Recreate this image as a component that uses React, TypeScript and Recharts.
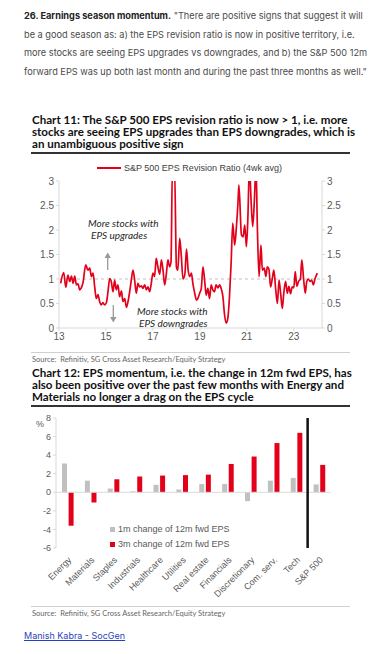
import React from 'react';
import {
  LineChart, Line, BarChart, Bar, XAxis, YAxis, ReferenceLine, Legend,
} from 'recharts';

// Chart 11: S&P 500 EPS revision ratio (4wk avg), x = year (20xx, decimal)
const revisionYears = [
  13.07, 13.2, 13.29, 13.38, 13.46, 13.53, 13.6, 13.67, 13.74, 13.81, 13.88, 13.95,
  14.02, 14.14, 14.23, 14.31, 14.38, 14.45, 14.52, 14.59, 14.66, 14.73, 14.8, 14.87,
  14.94, 15.02, 15.09, 15.16, 15.23, 15.3, 15.37, 15.44, 15.51, 15.58, 15.66, 15.72,
  15.8, 15.87, 15.94, 16.01, 16.08, 16.15, 16.22, 16.29, 16.36, 16.43, 16.51, 16.57,
  16.65, 16.72, 16.79, 16.86, 16.93, 17.0, 17.07, 17.14, 17.21, 17.29, 17.36, 17.43,
  17.5, 17.57, 17.64, 17.71, 17.77, 17.83, 17.92, 18.0, 18.06, 18.14, 18.21, 18.28,
  18.36, 18.43, 18.5, 18.57, 18.64, 18.7, 18.78, 18.85, 18.91, 18.99, 19.06, 19.13,
  19.2, 19.27, 19.34, 19.41, 19.48, 19.55, 19.62, 19.69, 19.77, 19.84, 19.91, 19.98,
  20.05, 20.12, 20.19, 20.26, 20.33, 20.4, 20.48, 20.55, 20.62, 20.66, 20.77, 20.84,
  20.91, 20.98, 21.04, 21.11, 21.18, 21.25, 21.32, 21.39, 21.45, 21.52, 21.6, 21.66,
  21.74, 21.81, 21.87, 21.94, 22.01, 22.08, 22.15, 22.23, 22.3, 22.37, 22.44, 22.51,
  22.57, 22.65, 22.72, 22.79, 22.86, 22.93, 23.0, 23.06, 23.13, 23.2, 23.28, 23.34,
  23.42, 23.49, 23.55, 23.62, 23.69, 23.76, 23.83, 23.9, 24.0,
];
const revisionRatio = [
  0.91, 1.13, 0.83, 1.08, 0.95, 1.06, 0.91, 1.06, 0.88, 0.9, 0.78, 0.82,
  0.92, 1.29, 1.18, 1.22, 1.05, 1.12, 0.84, 0.6, 0.68, 0.54, 0.47, 0.52,
  0.47, 0.52, 0.76, 1.01, 0.94, 0.74, 0.98, 0.78, 0.88, 0.64, 0.76, 0.54,
  0.6, 0.42, 0.54, 0.74, 0.98, 1.18, 0.98, 0.71, 0.91, 0.84, 0.86, 0.81,
  0.88, 0.78, 0.84, 0.74, 0.91, 1.12, 1.05, 1.42, 1.25, 1.1, 1.39, 1.18,
  0.88, 1.1, 1.39, 1.25, 1.35, 3.3, 3.3, 1.25, 1.18, 1.83, 1.46, 1.0,
  1.1, 1.61, 1.18, 1.05, 1.12, 0.91, 0.71, 0.57, 0.6, 0.71, 0.81, 1.25,
  0.98, 0.67, 0.81, 0.6, 0.88, 0.78, 0.74, 0.88, 0.82, 0.88, 0.8, 0.64,
  0.27, 0.1, 0.2, 0.64, 1.32, 2.14, 1.69, 2.03, 2.54, 2.92, 1.9, 1.86,
  2.1, 1.66, 2.2, 3.3, 2.6, 2.07, 2.6, 3.3, 2.0, 1.05, 1.69, 1.18,
  1.22, 1.05, 1.25, 1.2, 0.84, 1.0, 1.18, 0.78, 0.5, 0.98, 0.7, 0.4,
  0.7, 0.95, 0.71, 0.85, 0.7, 0.84, 0.82, 1.15, 0.85, 0.95, 1.0, 1.39,
  0.98, 0.71, 0.95, 1.0, 0.95, 0.98, 0.88, 1.0, 1.12,
];
const yearTicks = [13, 15, 17, 19, 21, 23];
const ratioTicks = [0, 0.5, 1, 1.5, 2, 2.5, 3];

// Chart 12: change in 12m fwd EPS by sector (%)
const sectors = [
  'Energy', 'Materials', 'Staples', 'Industrials', 'Healthcare', 'Utilities',
  'Real estate', 'Financials', 'Discretionary', 'Com. serv.', 'Tech', 'S&P 500',
];
const oneMonthChange = [3.1, 1.25, 0.4, 0.1, 0.8, 0.3, 0.9, 0.9, -0.95, 1.25, 1.55, 0.85];
const threeMonthChange = [-3.6, -1.1, 1.4, 1.7, 1.8, 1.85, 1.9, 3.05, 3.85, 5.3, 6.4, 2.95];
const pctTicks = [-6, -4, -2, 0, 2, 4, 6, 8];

const RED = '#e2001a';
const GREY = '#c0c0c0';
const AXIS = '#d9d9d9';
const TICK = '#595959';
const chartFont = '"Liberation Sans", Arial, sans-serif';
const titleFont = 'Lato, "Open Sans", sans-serif';

const revisionData = revisionYears.map((y, i) => ({ year: y, ratio: revisionRatio[i] }));
const sectorData = sectors.map((s, i) => ({
  sector: s,
  m1: oneMonthChange[i],
  m3: threeMonthChange[i],
}));

function Title({ top, lines }: { top: number; lines: string[] }) {
  return (
    <div style={{ position: 'absolute', left: 32, top, fontFamily: titleFont, fontWeight: 700,
      fontSize: 11.6, lineHeight: '12.3px', color: '#111' }}>
      {lines.map((l) => <div key={l} style={{ whiteSpace: 'nowrap' }}>{l}</div>)}
    </div>
  );
}

function Source({ top }: { top: number }) {
  return (
    <>
      <div style={{ position: 'absolute', left: 31, top, width: 319, height: 1, background: '#d0d0d0' }} />
      <div style={{ position: 'absolute', left: 32, top: top + 3, fontFamily: titleFont, fontSize: 7.5,
        color: '#666', whiteSpace: 'nowrap' }}>
        Source:&nbsp; Refinitiv, SG Cross Asset Research/Equity Strategy
      </div>
    </>
  );
}

const lineLegend = () => (
  <div style={{ display: 'flex', alignItems: 'center', fontFamily: chartFont, fontSize: 9, color: '#404040' }}>
    <span style={{ display: 'inline-block', width: 24, height: 2, background: RED, marginRight: 3 }} />
    S&amp;P 500 EPS Revision Ratio (4wk avg)
  </div>
);

const barLegend = () => (
  <div style={{ fontFamily: chartFont, fontSize: 9, color: TICK, lineHeight: '14.7px' }}>
    {[['1m change of 12m fwd EPS', GREY], ['3m change of 12m fwd EPS', RED]].map(([t, c]) => (
      <div key={t} style={{ display: 'flex', alignItems: 'center', whiteSpace: 'nowrap' }}>
        <span style={{ display: 'inline-block', width: 5, height: 5, background: c, marginRight: 3 }} />
        {t}
      </div>
    ))}
  </div>
);

export default function App() {
  const note: React.CSSProperties = {
    position: 'absolute', fontFamily: titleFont, fontStyle: 'italic', fontSize: 10,
    color: '#262626', whiteSpace: 'nowrap', lineHeight: '12px',
  };
  return (
    <div style={{ position: 'absolute', left: 0, top: 0, width: 381, height: 654, background: '#fff', overflow: 'hidden' }}>
      <div style={{ position: 'absolute', left: 24, top: 7, fontFamily: 'Inter, sans-serif', fontSize: 9.2,
        lineHeight: '18.7px', color: '#4a4a4a' }}>
        <div style={{ whiteSpace: 'nowrap' }}>
          <b style={{ color: '#222' }}>26. Earnings season momentum.</b> "There are positive signs that suggest it will
        </div>
        <div style={{ whiteSpace: 'nowrap' }}>be a good season as: a) the EPS revision ratio is now in positive territory, i.e.</div>
        <div style={{ whiteSpace: 'nowrap' }}>more stocks are seeing EPS upgrades vs downgrades, and b) the S&amp;P 500 12m</div>
        <div style={{ whiteSpace: 'nowrap' }}>forward EPS was up both last month and during the past three months as well."</div>
      </div>

      <Title top={113.5} lines={[
        'Chart 11: The S&P 500 EPS revision ratio is now > 1, i.e. more',
        'stocks are seeing EPS upgrades than EPS downgrades, which is',
        'an unambiguous positive sign',
      ]} />
      <div style={{ position: 'absolute', left: 31, top: 152, width: 319, height: 2, background: '#333' }} />

      <div style={{ position: 'absolute', left: 0, top: 160 }}>
        <LineChart width={381} height={189} data={revisionData}
          margin={{ top: 21, right: 24, bottom: 0, left: 24 }}>
          <Legend layout="horizontal" align="center" verticalAlign="middle" content={lineLegend}
            wrapperStyle={{ top: 3, left: 97, width: 260 }} />
          <XAxis dataKey="year" type="number" domain={[13, 24.2]} ticks={yearTicks} height={21}
            tick={{ fill: TICK, fontSize: 10, fontFamily: chartFont }} tickSize={3}
            axisLine={{ stroke: AXIS }} tickLine={{ stroke: AXIS }} allowDataOverflow />
          <YAxis yAxisId="left" domain={[0, 3]} ticks={ratioTicks} width={35} allowDataOverflow
            tick={{ fill: TICK, fontSize: 10, fontFamily: chartFont }} tickSize={3}
            axisLine={{ stroke: AXIS }} tickLine={{ stroke: AXIS }} />
          <YAxis yAxisId="right" orientation="right" domain={[0, 3]} ticks={ratioTicks} width={35}
            allowDataOverflow tick={{ fill: TICK, fontSize: 10, fontFamily: chartFont }} tickSize={3}
            axisLine={{ stroke: AXIS }} tickLine={{ stroke: AXIS }} />
          <ReferenceLine yAxisId="left" y={1} stroke="#bfbfbf" strokeDasharray="3 3" />
          <Line yAxisId="left" dataKey="ratio" type="monotone" stroke={RED} strokeWidth={1.7}
            dot={false} isAnimationActive={false} />
        </LineChart>
      </div>

      <div style={{ ...note, left: 88, top: 217 }}>More stocks with</div>
      <div style={{ ...note, left: 91, top: 229 }}>EPS upgrades</div>
      <div style={{ ...note, left: 137, top: 305 }}>More stocks with</div>
      <div style={{ ...note, left: 139, top: 317 }}>EPS downgrades</div>
      <svg style={{ position: 'absolute', left: 0, top: 0 }} width={381} height={654}>
        <line x1={107.7} y1={270} x2={107.7} y2={257} stroke="#999" strokeWidth={1.3} />
        <polygon points="104.5,258 110.9,258 107.7,252.5" fill="#999" />
        <line x1={113.3} y1={305} x2={113.3} y2={318} stroke="#999" strokeWidth={1.3} />
        <polygon points="110.1,317 116.5,317 113.3,322.5" fill="#999" />
      </svg>

      <Source top={352} />

      <Title top={366.5} lines={[
        'Chart 12: EPS momentum, i.e. the change in 12m fwd EPS, has',
        'also been positive over the past few months with Energy and',
        'Materials no longer a drag on the EPS cycle',
      ]} />
      <div style={{ position: 'absolute', left: 31, top: 405, width: 319, height: 2, background: '#333' }} />

      <div style={{ position: 'absolute', left: 0, top: 410 }}>
        <BarChart width={381} height={193} data={sectorData} barSize={5} barGap={1.6}
          margin={{ top: 8, right: 50.5, bottom: 0, left: 26 }}>
          <Legend layout="vertical" align="center" verticalAlign="middle" content={barLegend}
            wrapperStyle={{ top: 112, left: 110, width: 140 }} />
          <XAxis dataKey="sector" interval={0} height={55} axisLine={false} tickLine={false}
            tick={{ fill: TICK, fontSize: 9, fontFamily: chartFont }} angle={-45} textAnchor="end" />
          <YAxis domain={[-6, 8]} ticks={pctTicks} width={30} interval={0}
            tick={{ fill: TICK, fontSize: 9, fontFamily: chartFont }} tickSize={3}
            axisLine={{ stroke: AXIS }} tickLine={{ stroke: AXIS }}
            label={{ value: '%', position: 'insideTopLeft', offset: 0, dx: 10, dy: 3, fill: TICK, fontSize: 9, fontFamily: chartFont }} />
          <ReferenceLine y={0} stroke={AXIS} />
          <ReferenceLine x="S&P 500" position="start" stroke="#111" strokeWidth={2.5} />
          <Bar dataKey="m1" name="1m change of 12m fwd EPS" fill={GREY} isAnimationActive={false} />
          <Bar dataKey="m3" name="3m change of 12m fwd EPS" fill={RED} isAnimationActive={false} />
        </BarChart>
      </div>

      <Source top={606} />

      <div style={{ position: 'absolute', left: 24, top: 630, fontFamily: 'Inter, sans-serif', fontSize: 9,
        color: '#2a3fbd', textDecoration: 'underline', whiteSpace: 'nowrap' }}>
        Manish Kabra - SocGen
      </div>
    </div>
  );
}
